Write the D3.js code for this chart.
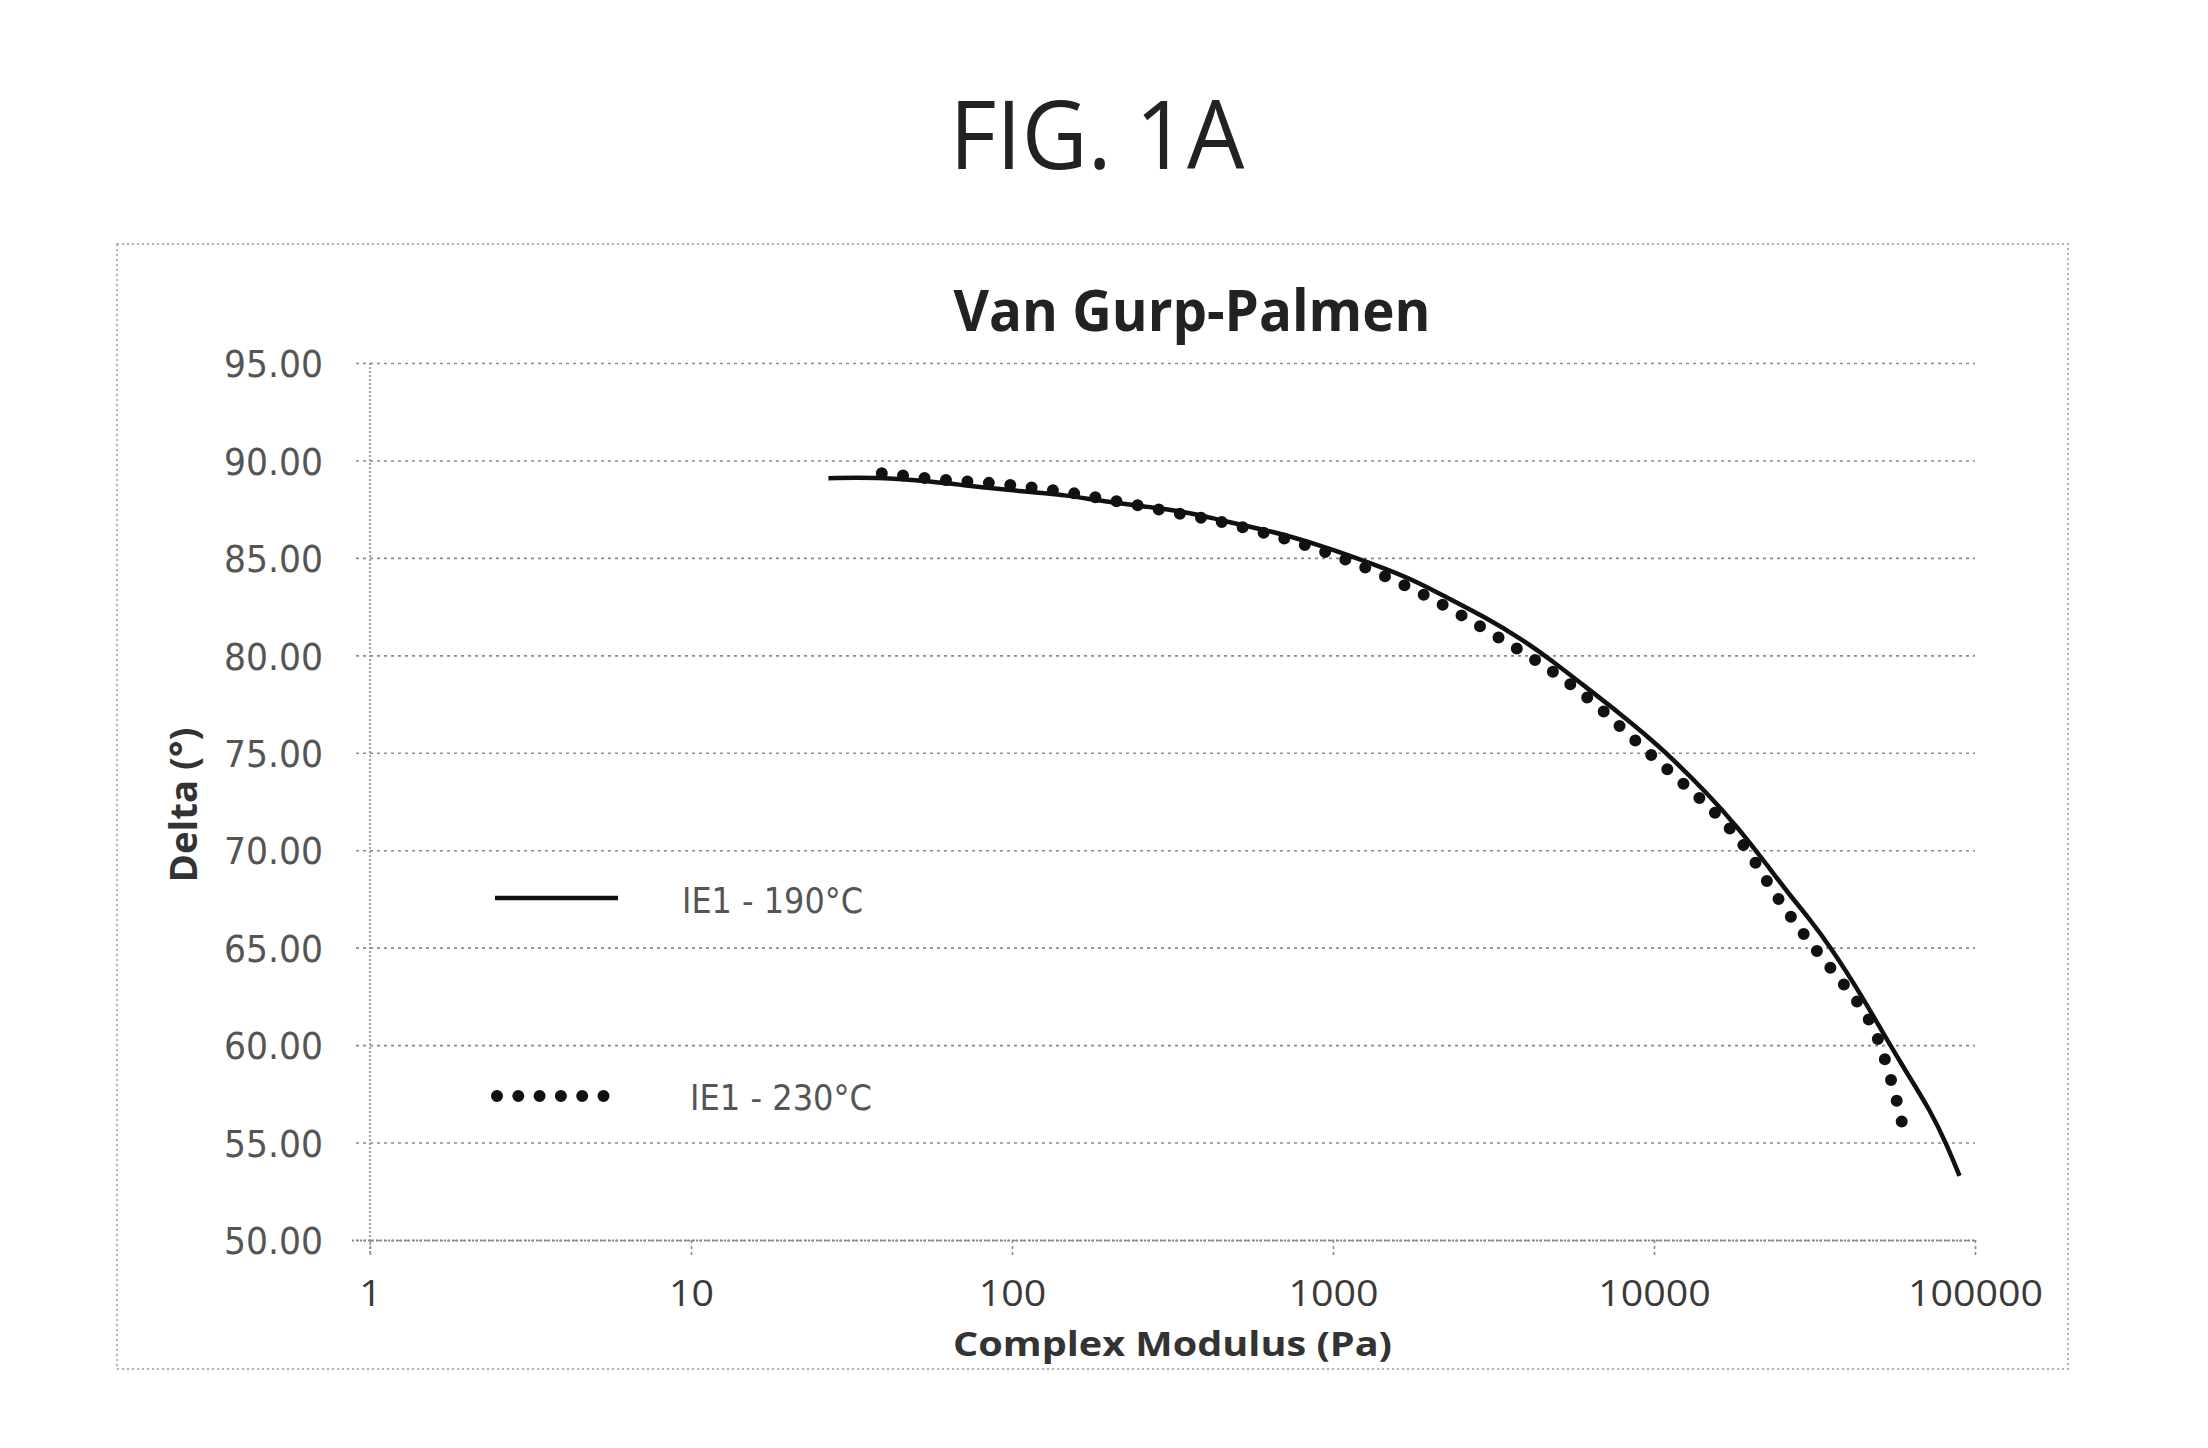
<!DOCTYPE html>
<html>
<head>
<meta charset="utf-8">
<script src="https://cdn.jsdelivr.net/npm/d3@7"></script>
<style>
  html, body { margin: 0; padding: 0; background: #fff; }
  svg { display: block; }
</style>
</head>
<body>
<svg id="chart" width="2208" height="1448"></svg>
<script>
// ---------------- data ----------------
const figureTitle = "FIG. 1A";
const chartTitle = "Van Gurp-Palmen";
const xAxisTitle = "Complex Modulus (Pa)";
const yAxisTitle = "Delta (°)";
const seriesNames = ["IE1 - 190°C", "IE1 - 230°C"];

const xTickValues = [1, 10, 100, 1000, 10000, 100000];
const xTickLabels = ["1", "10", "100", "1000", "10000", "100000"];
const yTickValues = [50, 55, 60, 65, 70, 75, 80, 85, 90, 95];
const yTickLabels = ["50.00", "55.00", "60.00", "65.00", "70.00", "75.00", "80.00", "85.00", "90.00", "95.00"];

// IE1 - 190°C : complex modulus (Pa) and delta (°)
const modulus190 = [26.8, 37.9, 56.9, 72.2, 91.8, 116.5, 148, 188, 239, 303, 376, 434, 551, 700, 890,
  1130, 1435, 1823, 2315, 2967, 3908, 4742, 6081, 7791, 9190, 11140, 14690, 18330, 22230, 26240,
  30120, 35550, 44300, 52270, 61660, 72800, 81300, 89500];
const delta190 = [89.09, 89.14, 88.91, 88.71, 88.53, 88.36, 88.22, 87.93, 87.71, 87.50, 87.24, 86.98, 86.60, 86.21, 85.69,
  85.12, 84.48, 83.79, 82.88, 81.97, 80.79, 79.80, 78.42, 77.04, 76.06, 74.87, 72.90, 71.13, 69.35, 67.78,
  66.59, 65.02, 62.55, 60.48, 58.51, 56.60, 54.96, 53.29];

// IE1 - 230°C
const modulus230 = [39.3, 46.1, 62.3, 84.4, 113.8, 153.4, 206.8, 279.5, 374, 439, 675, 1046, 1598, 2371,
  3500, 4520, 5150, 6568, 8170, 10210, 12870, 16060, 19640, 22850, 27120, 32700, 39660, 47830,
  52700, 57250, 59160];
const delta230 = [89.34, 89.22, 88.97, 88.88, 88.62, 88.36, 87.93, 87.53, 87.10, 86.90, 86.12, 85.09, 83.79, 82.33,
  80.64, 79.50, 78.86, 77.54, 76.06, 74.62, 73.16, 71.72, 70.04, 68.17, 66.40, 64.66, 63.00, 61.23,
  59.20, 57.09, 56.05];

// ---------------- layout ----------------
const svg = d3.select("#chart");
const plot = { left: 370, right: 1975, top: 363, bottom: 1240 };
const x = d3.scaleLog().domain([1, 100000]).range([plot.left, plot.right]);
const y = d3.scaleLinear().domain([50, 95]).range([plot.bottom, plot.top]);

const gridColor = "#8a8a8a";
const textColor = "#3a3a3a";

// Figure title
svg.append("text")
  .attr("x", 1097).attr("y", 169)
  .attr("text-anchor", "middle")
  .attr("font-family", "'Open Sans', sans-serif")
  .attr("font-size", 96)
  .attr("fill", "#222")
  .attr("textLength", 295).attr("lengthAdjust", "spacingAndGlyphs")
  .text(figureTitle);

// Chart area border (dotted)
svg.append("rect")
  .attr("x", 117).attr("y", 244).attr("width", 1951).attr("height", 1125)
  .attr("fill", "none").attr("stroke", "#9a9a9a").attr("stroke-width", 1.5)
  .attr("stroke-dasharray", "2 3");

// Chart title
svg.append("text")
  .attr("x", 1192).attr("y", 331)
  .attr("text-anchor", "middle")
  .attr("font-family", "'Open Sans', sans-serif")
  .attr("font-weight", "bold")
  .attr("font-size", 58)
  .attr("fill", "#222")
  .attr("textLength", 477).attr("lengthAdjust", "spacingAndGlyphs")
  .text(chartTitle);

// Horizontal gridlines (with left tick extension)
const yAxis = d3.axisLeft(y)
  .tickValues(yTickValues)
  .tickSize(-(plot.right - plot.left) - 14)
  .tickPadding(0)
  .tickFormat((d, i) => yTickLabels[i]);
const gy = svg.append("g")
  .attr("transform", `translate(${plot.left - 14},0)`)
  .call(yAxis);
gy.select(".domain").remove();
gy.selectAll(".tick line")
  .attr("stroke", gridColor).attr("stroke-width", 1.6)
  .attr("stroke-dasharray", "3 4");
gy.selectAll(".tick text")
  .attr("x", -33).attr("dy", "0.36em")
  .attr("font-family", "'DejaVu Sans', sans-serif")
  .attr("font-size", 38)
  .attr("fill", "#555")
  .attr("textLength", 99).attr("lengthAdjust", "spacingAndGlyphs");

// Vertical axis line (dotted)
svg.append("line")
  .attr("x1", x(1)).attr("x2", x(1))
  .attr("y1", plot.top).attr("y2", plot.bottom + 15)
  .attr("stroke", gridColor).attr("stroke-width", 1.6)
  .attr("stroke-dasharray", "2 2");

// X axis
const xAxis = d3.axisBottom(x)
  .tickValues(xTickValues)
  .tickSize(15)
  .tickPadding(0)
  .tickFormat((d, i) => xTickLabels[i]);
const gx = svg.append("g")
  .attr("transform", `translate(0,${plot.bottom})`)
  .call(xAxis);
gx.select(".domain")
  .attr("d", `M${plot.left - 18},0.5H${plot.right}`)
  .attr("stroke", gridColor).attr("stroke-width", 2)
  .attr("stroke-dasharray", "2 2");
gx.selectAll(".tick line")
  .attr("stroke", gridColor).attr("stroke-width", 1.6)
  .attr("stroke-dasharray", "3 3");
gx.selectAll(".tick text")
  .attr("y", 53).attr("dy", "0.36em")
  .attr("font-family", "'Open Sans', sans-serif")
  .attr("font-size", 37)
  .attr("fill", textColor)
  .attr("textLength", (d, i) => xTickLabels[i].length * 22.5)
  .attr("lengthAdjust", "spacingAndGlyphs");

// Axis titles
svg.append("text")
  .attr("x", (plot.left + plot.right) / 2).attr("y", 1356)
  .attr("text-anchor", "middle")
  .attr("font-family", "'Open Sans', sans-serif")
  .attr("font-weight", "bold").attr("font-size", 34)
  .attr("fill", "#333")
  .attr("textLength", 439).attr("lengthAdjust", "spacingAndGlyphs")
  .text(xAxisTitle);

svg.append("text")
  .attr("transform", "translate(197,805) rotate(-90)")
  .attr("text-anchor", "middle")
  .attr("font-family", "'Open Sans', sans-serif")
  .attr("font-weight", "bold").attr("font-size", 38)
  .attr("fill", "#333")
  .attr("textLength", 155).attr("lengthAdjust", "spacingAndGlyphs")
  .text(yAxisTitle);

// Series
const line = d3.line()
  .x(d => x(d[0]))
  .y(d => y(d[1]))
  .curve(d3.curveBasis);

const data190 = modulus190.map((m, i) => [m, delta190[i]]);
const data230 = modulus230.map((m, i) => [m, delta230[i]]);

svg.append("path")
  .datum(data190)
  .attr("d", line)
  .attr("fill", "none")
  .attr("stroke", "#111")
  .attr("stroke-width", 4.5)
  .attr("stroke-linejoin", "round");

svg.append("path")
  .datum(data230)
  .attr("d", line)
  .attr("fill", "none")
  .attr("stroke", "#111")
  .attr("stroke-width", 12)
  .attr("stroke-linecap", "round")
  .attr("stroke-dasharray", "0 21.5");

// Legend
const legend = svg.append("g");
legend.append("line")
  .attr("x1", 495).attr("x2", 618).attr("y1", 898).attr("y2", 898)
  .attr("stroke", "#111").attr("stroke-width", 4.5);
legend.append("text")
  .attr("x", 682).attr("y", 900).attr("dy", "0.36em")
  .attr("font-family", "'DejaVu Sans', sans-serif")
  .attr("font-size", 36).attr("fill", "#555")
  .attr("textLength", 181).attr("lengthAdjust", "spacingAndGlyphs")
  .text(seriesNames[0]);
legend.append("line")
  .attr("x1", 497).attr("x2", 604).attr("y1", 1096).attr("y2", 1096)
  .attr("stroke", "#111").attr("stroke-width", 12)
  .attr("stroke-linecap", "round")
  .attr("stroke-dasharray", "0 21.3");
legend.append("text")
  .attr("x", 690).attr("y", 1097).attr("dy", "0.36em")
  .attr("font-family", "'DejaVu Sans', sans-serif")
  .attr("font-size", 36).attr("fill", "#555")
  .attr("textLength", 182).attr("lengthAdjust", "spacingAndGlyphs")
  .text(seriesNames[1]);
</script>
</body>
</html>
